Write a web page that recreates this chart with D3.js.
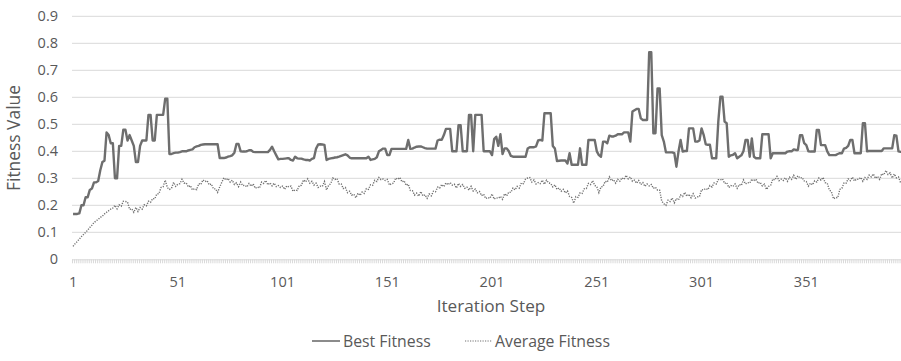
<!DOCTYPE html>
<html>
<head>
<meta charset="utf-8">
<script src="https://cdn.jsdelivr.net/npm/d3@7"></script>
<style>
  html, body { margin: 0; padding: 0; background: #ffffff; }
  svg { display: block; font-family: "Open Sans", sans-serif; }
</style>
</head>
<body>
<svg id="chart" width="901" height="361"></svg>
<script>
// Best fitness per iteration step (1 .. 397)
const bestFitness = [
  0.168,0.168,0.168,0.17,0.20,0.20,0.23,0.23,0.257,0.262,
  0.285,0.285,0.29,0.33,0.36,0.365,0.47,0.46,0.43,0.43,
  0.30,0.30,0.42,0.42,0.48,0.48,0.44,0.46,0.44,0.42,
  0.36,0.36,0.42,0.44,0.44,0.44,0.535,0.535,0.44,0.44,
  0.535,0.535,0.535,0.535,0.595,0.595,0.39,0.39,0.393,0.395,
  0.395,0.397,0.40,0.40,0.40,0.403,0.405,0.407,0.415,0.418,
  0.42,0.424,0.425,0.426,0.426,0.426,0.426,0.426,0.426,0.426,
  0.375,0.375,0.375,0.377,0.38,0.382,0.385,0.395,0.427,0.427,
  0.40,0.399,0.399,0.40,0.404,0.404,0.398,0.397,0.397,0.397,
  0.397,0.397,0.397,0.397,0.405,0.417,0.40,0.385,0.37,0.372,
  0.372,0.373,0.374,0.374,0.368,0.366,0.38,0.374,0.373,0.373,
  0.370,0.368,0.368,0.366,0.372,0.375,0.41,0.425,0.426,0.425,
  0.424,0.368,0.372,0.374,0.375,0.377,0.378,0.38,0.383,0.386,
  0.389,0.385,0.377,0.374,0.374,0.374,0.374,0.374,0.374,0.374,
  0.374,0.38,0.368,0.37,0.372,0.378,0.40,0.405,0.41,0.41,
  0.386,0.386,0.409,0.409,0.409,0.409,0.409,0.409,0.409,0.409,
  0.442,0.409,0.41,0.414,0.417,0.418,0.418,0.415,0.412,0.41,
  0.41,0.41,0.41,0.41,0.44,0.443,0.443,0.46,0.483,0.483,
  0.483,0.40,0.40,0.40,0.497,0.497,0.40,0.40,0.40,0.535,
  0.535,0.40,0.535,0.535,0.535,0.535,0.40,0.40,0.40,0.40,
  0.386,0.445,0.454,0.42,0.463,0.39,0.411,0.411,0.40,0.383,
  0.38,0.38,0.38,0.38,0.38,0.38,0.38,0.41,0.415,0.415,
  0.415,0.418,0.44,0.442,0.44,0.541,0.541,0.541,0.541,0.42,
  0.41,0.364,0.365,0.366,0.366,0.366,0.355,0.393,0.35,0.35,
  0.35,0.35,0.411,0.35,0.35,0.35,0.442,0.442,0.442,0.442,
  0.40,0.386,0.38,0.436,0.436,0.43,0.458,0.455,0.455,0.458,
  0.463,0.463,0.463,0.47,0.47,0.47,0.436,0.547,0.552,0.557,
  0.557,0.522,0.516,0.516,0.516,0.767,0.767,0.467,0.467,0.633,
  0.633,0.46,0.436,0.396,0.396,0.396,0.396,0.393,0.343,0.399,
  0.442,0.399,0.401,0.401,0.485,0.485,0.485,0.436,0.436,0.44,
  0.485,0.461,0.426,0.424,0.424,0.374,0.374,0.374,0.51,0.602,
  0.602,0.51,0.504,0.38,0.385,0.387,0.393,0.374,0.38,0.385,
  0.40,0.442,0.442,0.38,0.448,0.38,0.374,0.374,0.374,0.463,
  0.463,0.463,0.463,0.374,0.393,0.393,0.393,0.393,0.393,0.393,
  0.393,0.399,0.40,0.40,0.407,0.405,0.405,0.46,0.46,0.43,
  0.423,0.40,0.399,0.399,0.399,0.479,0.479,0.423,0.423,0.423,
  0.40,0.386,0.386,0.386,0.386,0.39,0.393,0.393,0.41,0.413,
  0.42,0.442,0.442,0.393,0.393,0.393,0.393,0.504,0.504,0.40,
  0.401,0.401,0.401,0.401,0.401,0.401,0.401,0.411,0.411,0.411,
  0.411,0.411,0.46,0.458,0.40,0.398,0.398
];

// Average fitness of the population per iteration step (1 .. 397)
const averageFitness = [
  0.048,0.058,0.066,0.075,0.084,0.092,0.100,0.108,0.118,0.126,
  0.136,0.142,0.148,0.155,0.160,0.168,0.174,0.180,0.186,0.190,
  0.200,0.187,0.202,0.197,0.215,0.214,0.212,0.185,0.187,0.174,
  0.192,0.177,0.192,0.186,0.202,0.198,0.215,0.211,0.225,0.224,
  0.242,0.243,0.266,0.269,0.293,0.266,0.259,0.263,0.285,0.270,
  0.278,0.280,0.296,0.282,0.283,0.268,0.273,0.257,0.261,0.258,
  0.280,0.277,0.294,0.288,0.291,0.276,0.279,0.261,0.261,0.248,
  0.268,0.285,0.302,0.294,0.299,0.286,0.293,0.277,0.283,0.269,
  0.286,0.273,0.274,0.268,0.281,0.271,0.279,0.263,0.268,0.264,
  0.286,0.281,0.292,0.276,0.283,0.272,0.282,0.269,0.273,0.266,
  0.271,0.259,0.272,0.268,0.271,0.252,0.257,0.255,0.273,0.274,
  0.294,0.287,0.298,0.282,0.289,0.275,0.282,0.266,0.271,0.270,
  0.288,0.257,0.274,0.280,0.301,0.296,0.299,0.279,0.279,0.262,
  0.266,0.247,0.252,0.238,0.241,0.228,0.245,0.237,0.249,0.244,
  0.262,0.259,0.276,0.274,0.293,0.288,0.303,0.295,0.297,0.292,
  0.296,0.275,0.280,0.282,0.301,0.296,0.303,0.287,0.291,0.274,
  0.278,0.255,0.254,0.238,0.245,0.234,0.251,0.235,0.239,0.226,
  0.242,0.235,0.252,0.250,0.267,0.264,0.277,0.269,0.283,0.276,
  0.284,0.275,0.278,0.264,0.281,0.270,0.277,0.263,0.267,0.256,
  0.270,0.253,0.260,0.246,0.251,0.236,0.241,0.225,0.229,0.226,
  0.242,0.223,0.228,0.226,0.233,0.222,0.243,0.235,0.249,0.248,
  0.264,0.257,0.270,0.264,0.283,0.280,0.297,0.301,0.303,0.286,
  0.294,0.279,0.284,0.280,0.293,0.278,0.293,0.283,0.281,0.268,
  0.276,0.259,0.264,0.252,0.259,0.246,0.253,0.233,0.229,0.208,
  0.232,0.229,0.246,0.244,0.261,0.262,0.281,0.277,0.291,0.274,
  0.268,0.247,0.268,0.270,0.289,0.286,0.305,0.291,0.295,0.282,
  0.296,0.289,0.302,0.296,0.311,0.298,0.305,0.289,0.293,0.282,
  0.292,0.277,0.284,0.270,0.279,0.272,0.277,0.263,0.267,0.256,
  0.256,0.215,0.206,0.200,0.219,0.214,0.227,0.209,0.225,0.220,
  0.238,0.233,0.248,0.234,0.241,0.228,0.243,0.227,0.231,0.232,
  0.258,0.257,0.262,0.258,0.273,0.268,0.283,0.279,0.295,0.294,
  0.298,0.281,0.284,0.266,0.273,0.270,0.279,0.263,0.277,0.274,
  0.294,0.279,0.284,0.282,0.297,0.290,0.297,0.281,0.285,0.272,
  0.278,0.259,0.270,0.274,0.297,0.294,0.307,0.291,0.297,0.292,
  0.302,0.289,0.304,0.296,0.311,0.296,0.309,0.301,0.303,0.290,
  0.288,0.271,0.282,0.276,0.291,0.286,0.301,0.293,0.303,0.284,
  0.282,0.257,0.250,0.224,0.229,0.228,0.259,0.263,0.283,0.282,
  0.298,0.291,0.304,0.290,0.297,0.296,0.303,0.289,0.303,0.296,
  0.312,0.305,0.316,0.300,0.307,0.296,0.317,0.313,0.329,0.314,
  0.320,0.301,0.316,0.302,0.305,0.284,0.283
];

const yTickValues = [0, 0.1, 0.2, 0.3, 0.4, 0.5, 0.6, 0.7, 0.8, 0.9];
const xTickLabels = [1, 51, 101, 151, 201, 251, 301, 351];
const seriesNames = ["Best Fitness", "Average Fitness"];
const axisTitles = { x: "Iteration Step", y: "Fitness Value" };

const steps = d3.range(1, bestFitness.length + 1);
const textColor = "#595959";
const gridColor = "#d9d9d9";

const svg = d3.select("#chart");

// Plot area: one category slot per iteration step
const plotLeft = 72, plotTop = 16.3, plotBottom = 259.3;
const slot = 2.095;
const x = d3.scaleLinear()
  .domain([0.5, steps.length + 0.5])
  .range([plotLeft, plotLeft + steps.length * slot]);
const y = d3.scaleLinear().domain([0, 0.9]).range([plotBottom, plotTop]);

// Horizontal gridlines
svg.append("g")
  .selectAll("line")
  .data(yTickValues.filter(v => v > 0))
  .join("line")
  .attr("x1", plotLeft).attr("x2", 901)
  .attr("y1", d => y(d)).attr("y2", d => y(d))
  .attr("stroke", gridColor).attr("stroke-width", 1);

// Y axis labels
const yAxis = d3.axisLeft(y)
  .tickValues(yTickValues)
  .tickSize(0)
  .tickPadding(14)
  .tickFormat(d => d === 0 ? "0" : d3.format(".1f")(d));
const gy = svg.append("g")
  .attr("transform", `translate(${plotLeft},0)`)
  .call(yAxis);
gy.select(".domain").remove();
gy.selectAll("text")
  .attr("fill", textColor)
  .style("font-size", "14.5px")
  .style("font-family", "'Open Sans', sans-serif");

// Category axis: a small tick at every slot boundary
const boundaries = d3.range(0.5, steps.length + 1, 1);
const xAxis = d3.axisBottom(x)
  .tickValues(boundaries)
  .tickSize(4)
  .tickFormat("");
const gx = svg.append("g")
  .attr("transform", `translate(0,${plotBottom})`)
  .call(xAxis);
gx.select(".domain").attr("stroke", gridColor).attr("d", `M${plotLeft},0.5H901`);
gx.selectAll(".tick line").attr("stroke", gridColor);

// Labels every 50 steps
svg.append("g")
  .selectAll("text")
  .data(xTickLabels)
  .join("text")
  .attr("x", d => x(d))
  .attr("y", 287)
  .attr("text-anchor", "middle")
  .attr("fill", textColor)
  .style("font-size", "14.5px")
  .text(d => d);

// Axis titles
svg.append("text")
  .attr("x", 491).attr("y", 312)
  .attr("text-anchor", "middle")
  .attr("fill", textColor)
  .style("font-size", "17.2px")
  .text(axisTitles.x);

svg.append("text")
  .attr("transform", "translate(20,138) rotate(-90)")
  .attr("text-anchor", "middle")
  .attr("fill", textColor)
  .style("font-size", "17.4px")
  .text(axisTitles.y);

// Series lines
const line = d3.line()
  .x((d, i) => x(steps[i]))
  .y(d => y(d));

const bestStyle = { stroke: "#6e6e6e", width: 2.4, dash: null };
const avgStyle = { stroke: "#707070", width: 1.4, dash: "1.2 1.3" };

svg.append("path")
  .datum(averageFitness)
  .attr("fill", "none")
  .attr("stroke", avgStyle.stroke)
  .attr("stroke-width", avgStyle.width)
  .attr("stroke-dasharray", avgStyle.dash)
  .attr("d", line);

svg.append("path")
  .datum(bestFitness)
  .attr("fill", "none")
  .attr("stroke", bestStyle.stroke)
  .attr("stroke-width", bestStyle.width)
  .attr("stroke-linejoin", "round")
  .attr("d", line);

// Legend
const legend = svg.append("g").attr("transform", "translate(0,341)");
const legendItems = [
  { name: seriesNames[0], style: bestStyle, x1: 312, x2: 340, tx: 343 },
  { name: seriesNames[1], style: avgStyle, x1: 465, x2: 492, tx: 495 }
];
legendItems.forEach(item => {
  legend.append("line")
    .attr("x1", item.x1).attr("x2", item.x2)
    .attr("y1", 0).attr("y2", 0)
    .attr("stroke", item.style.stroke)
    .attr("stroke-width", item.style === bestStyle ? 1.6 : 1.2)
    .attr("stroke-dasharray", item.style.dash);
  legend.append("text")
    .attr("x", item.tx).attr("y", 0)
    .attr("dy", "0.35em")
    .attr("fill", textColor)
    .style("font-size", "15.8px")
    .text(item.name);
});
</script>
</body>
</html>
